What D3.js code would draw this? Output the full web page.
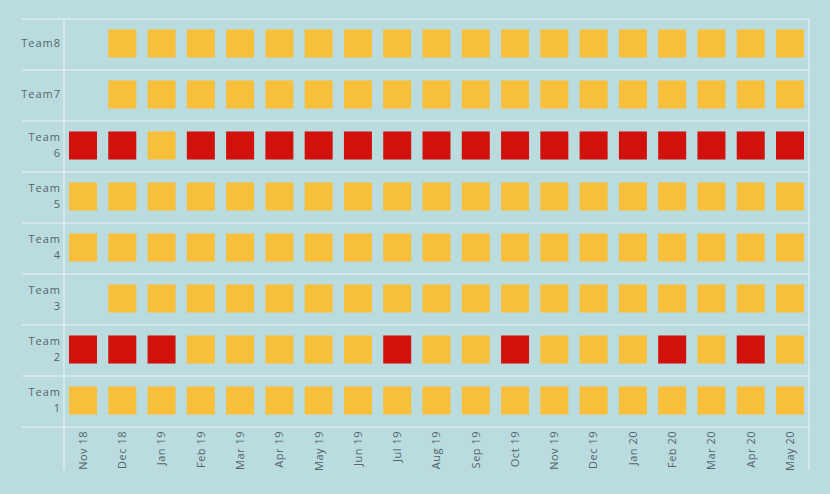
<!DOCTYPE html>
<html>
<head>
<meta charset="utf-8">
<script src="https://cdn.jsdelivr.net/npm/d3@7"></script>
<style>
  html, body { margin: 0; padding: 0; background: #badcdf; }
  svg { display: block; }
  text { font-family: "Open Sans", sans-serif; fill: #52656a; }
</style>
</head>
<body>
<svg id="chart" width="830" height="494"></svg>
<script>
// ---- data ----
const months = ["Nov 18","Dec 18","Jan 19","Feb 19","Mar 19","Apr 19","May 19","Jun 19","Jul 19","Aug 19","Sep 19","Oct 19","Nov 19","Dec 19","Jan 20","Feb 20","Mar 20","Apr 20","May 20"];
const teams = ["Team8","Team7","Team 6","Team 5","Team 4","Team 3","Team 2","Team 1"];
// status per month: 0 = no data, 1 = amber, 2 = red
const team8 = [0,1,1,1,1,1,1,1,1,1,1,1,1,1,1,1,1,1,1];
const team7 = [0,1,1,1,1,1,1,1,1,1,1,1,1,1,1,1,1,1,1];
const team6 = [2,2,1,2,2,2,2,2,2,2,2,2,2,2,2,2,2,2,2];
const team5 = [1,1,1,1,1,1,1,1,1,1,1,1,1,1,1,1,1,1,1];
const team4 = [1,1,1,1,1,1,1,1,1,1,1,1,1,1,1,1,1,1,1];
const team3 = [0,1,1,1,1,1,1,1,1,1,1,1,1,1,1,1,1,1,1];
const team2 = [2,2,2,1,1,1,1,1,2,1,1,2,1,1,1,2,1,2,1];
const team1 = [1,1,1,1,1,1,1,1,1,1,1,1,1,1,1,1,1,1,1];
const statusRows = [team8, team7, team6, team5, team4, team3, team2, team1];
const statusColors = { 1: "#f8bf3b", 2: "#d1120c" };

// ---- layout ----
const svg = d3.select("#chart");
const pLeft = 64, pRight = 809, pTop = 19, pBottom = 427;

const x = d3.scaleBand().domain(months).range([pLeft, pRight])
  .paddingInner(0.287).paddingOuter(0.127);
const y = d3.scaleBand().domain(teams).range([pTop - 1, pBottom - 1])
  .paddingInner(0.45).paddingOuter(0.225);

const gridColor = "#dcedee";

// horizontal row separators
const edges = d3.range(teams.length + 1).map(i => pTop + i * y.step());
svg.append("g").selectAll("line").data(edges).join("line")
  .attr("x1", 22).attr("x2", pRight)
  .attr("y1", d => d).attr("y2", d => d)
  .attr("stroke", gridColor).attr("stroke-width", 1.5);

// vertical borders
svg.append("g").selectAll("line").data([pLeft, pRight]).join("line")
  .attr("x1", d => d).attr("x2", d => d)
  .attr("y1", pTop).attr("y2", 470)
  .attr("stroke", gridColor).attr("stroke-width", 1.5);

// cells
const cells = [];
statusRows.forEach((row, i) => row.forEach((s, j) => {
  if (s) cells.push({ team: teams[i], month: months[j], s });
}));
svg.append("g").selectAll("rect").data(cells).join("rect")
  .attr("x", d => x(d.month))
  .attr("y", d => y(d.team))
  .attr("width", x.bandwidth())
  .attr("height", y.bandwidth())
  .attr("fill", d => statusColors[d.s]);

// y labels
const yl = svg.append("g").selectAll("text").data(teams).join("text")
  .attr("text-anchor", "end")
  .attr("font-size", 11)
  .attr("letter-spacing", 1)
  .attr("transform", d => `translate(${pLeft - 3},${y(d) + y.bandwidth() / 2})`);
yl.each(function(d) {
  const parts = d.split(" ");
  const t = d3.select(this);
  if (parts.length === 1) {
    t.append("tspan").attr("x", 0).attr("dy", "0.35em").text(d);
  } else {
    t.append("tspan").attr("x", 0).attr("y", -4.5).text(parts[0]);
    t.append("tspan").attr("x", 0).attr("y", 11.5).text(parts[1]);
  }
});

// x labels
svg.append("g").selectAll("text").data(months).join("text")
  .attr("text-anchor", "end")
  .attr("font-size", 11)
  .attr("letter-spacing", 0.5)
  .attr("dy", "0.35em")
  .attr("transform", d => `translate(${x(d) + x.bandwidth() / 2},${pBottom + 4}) rotate(-90)`)
  .text(d => d);
</script>
</body>
</html>
